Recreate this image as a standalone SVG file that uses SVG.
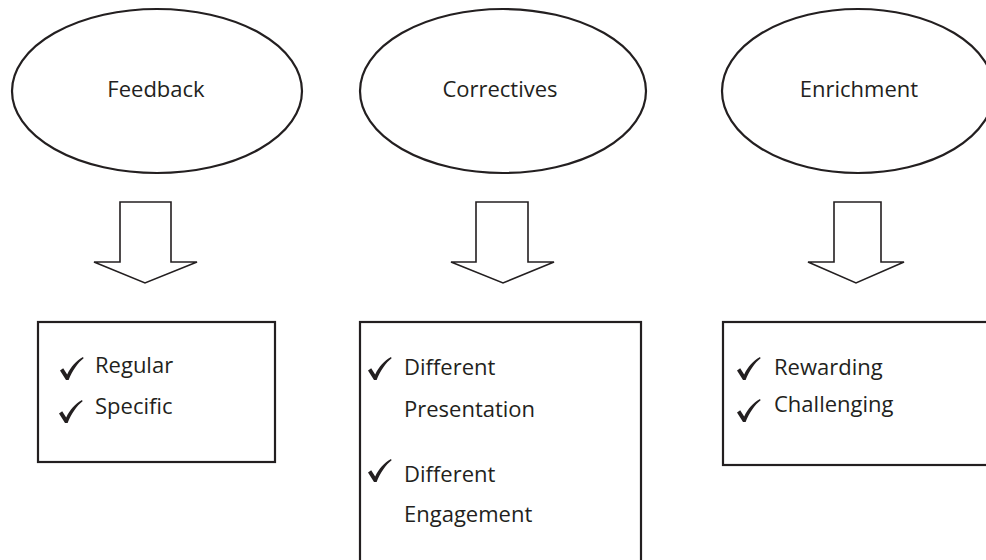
<svg xmlns="http://www.w3.org/2000/svg" width="986" height="560" viewBox="0 0 986 560">
  <style>
    .bg { fill: #ffffff; }
    .shape { fill: #ffffff; stroke: #231f20; stroke-width: 2.2; }
    .arrow { fill: #ffffff; stroke: #231f20; stroke-width: 1.6; stroke-linejoin: miter; }
    .lbl { font-family: "Open Sans", "Noto Sans", "Liberation Sans", sans-serif; font-size: 22px; fill: #231f20; }
    .mid { text-anchor: middle; }
    .tick { fill: #231f20; }
  </style>
  <defs>
    <path id="check" class="tick" d="M0,13.5 L3.2,11.2 L7.2,17.5 C11,9.5 16,4 23,0 L23.6,1.2 C17.5,6 12.5,13.5 8.6,23 L6,23 Z"/>
  </defs>
  <rect class="bg" x="0" y="0" width="986" height="560"/>

  <g id="feedback">
    <ellipse class="shape" cx="157" cy="91" rx="145" ry="82"/>
    <text class="lbl mid" x="156" y="97">Feedback</text>
  </g>
  <g id="correctives">
    <ellipse class="shape" cx="503" cy="91" rx="143" ry="82"/>
    <text class="lbl mid" x="500" y="97">Correctives</text>
  </g>
  <g id="enrichment">
    <ellipse class="shape" cx="858" cy="91" rx="136" ry="82"/>
    <text class="lbl mid" x="859" y="97">Enrichment</text>
  </g>

  <g id="connectors">
    <polygon class="arrow" points="120,202 171,202 171,262 197,262 145,283 94,262 120,262"/>
    <polygon class="arrow" points="476,202 528,202 528,262 554,262 503,283 451,262 476,262"/>
    <polygon class="arrow" points="834,202 881,202 881,262 904,262 856,283 808,262 834,262"/>
  </g>

  <g id="feedback-list">
    <rect class="shape" x="38" y="322" width="237" height="140"/>
    <use href="#check" x="60" y="357"/>
    <text class="lbl" x="95" y="373">Regular</text>
    <use href="#check" x="59" y="400"/>
    <text class="lbl" x="95" y="414">Specific</text>
  </g>
  <g id="correctives-list">
    <rect class="shape" x="360" y="322" width="281" height="260"/>
    <use href="#check" x="368" y="357"/>
    <text class="lbl" x="404" y="375">Different</text>
    <text class="lbl" x="404" y="417">Presentation</text>
    <use href="#check" x="368" y="459"/>
    <text class="lbl" x="404" y="482">Different</text>
    <text class="lbl" x="404" y="522">Engagement</text>
  </g>
  <g id="enrichment-list">
    <rect class="shape" x="723" y="322" width="280" height="143"/>
    <use href="#check" x="737" y="357"/>
    <text class="lbl" x="774" y="375">Rewarding</text>
    <use href="#check" x="737" y="399"/>
    <text class="lbl" x="774" y="412">Challenging</text>
  </g>
</svg>
